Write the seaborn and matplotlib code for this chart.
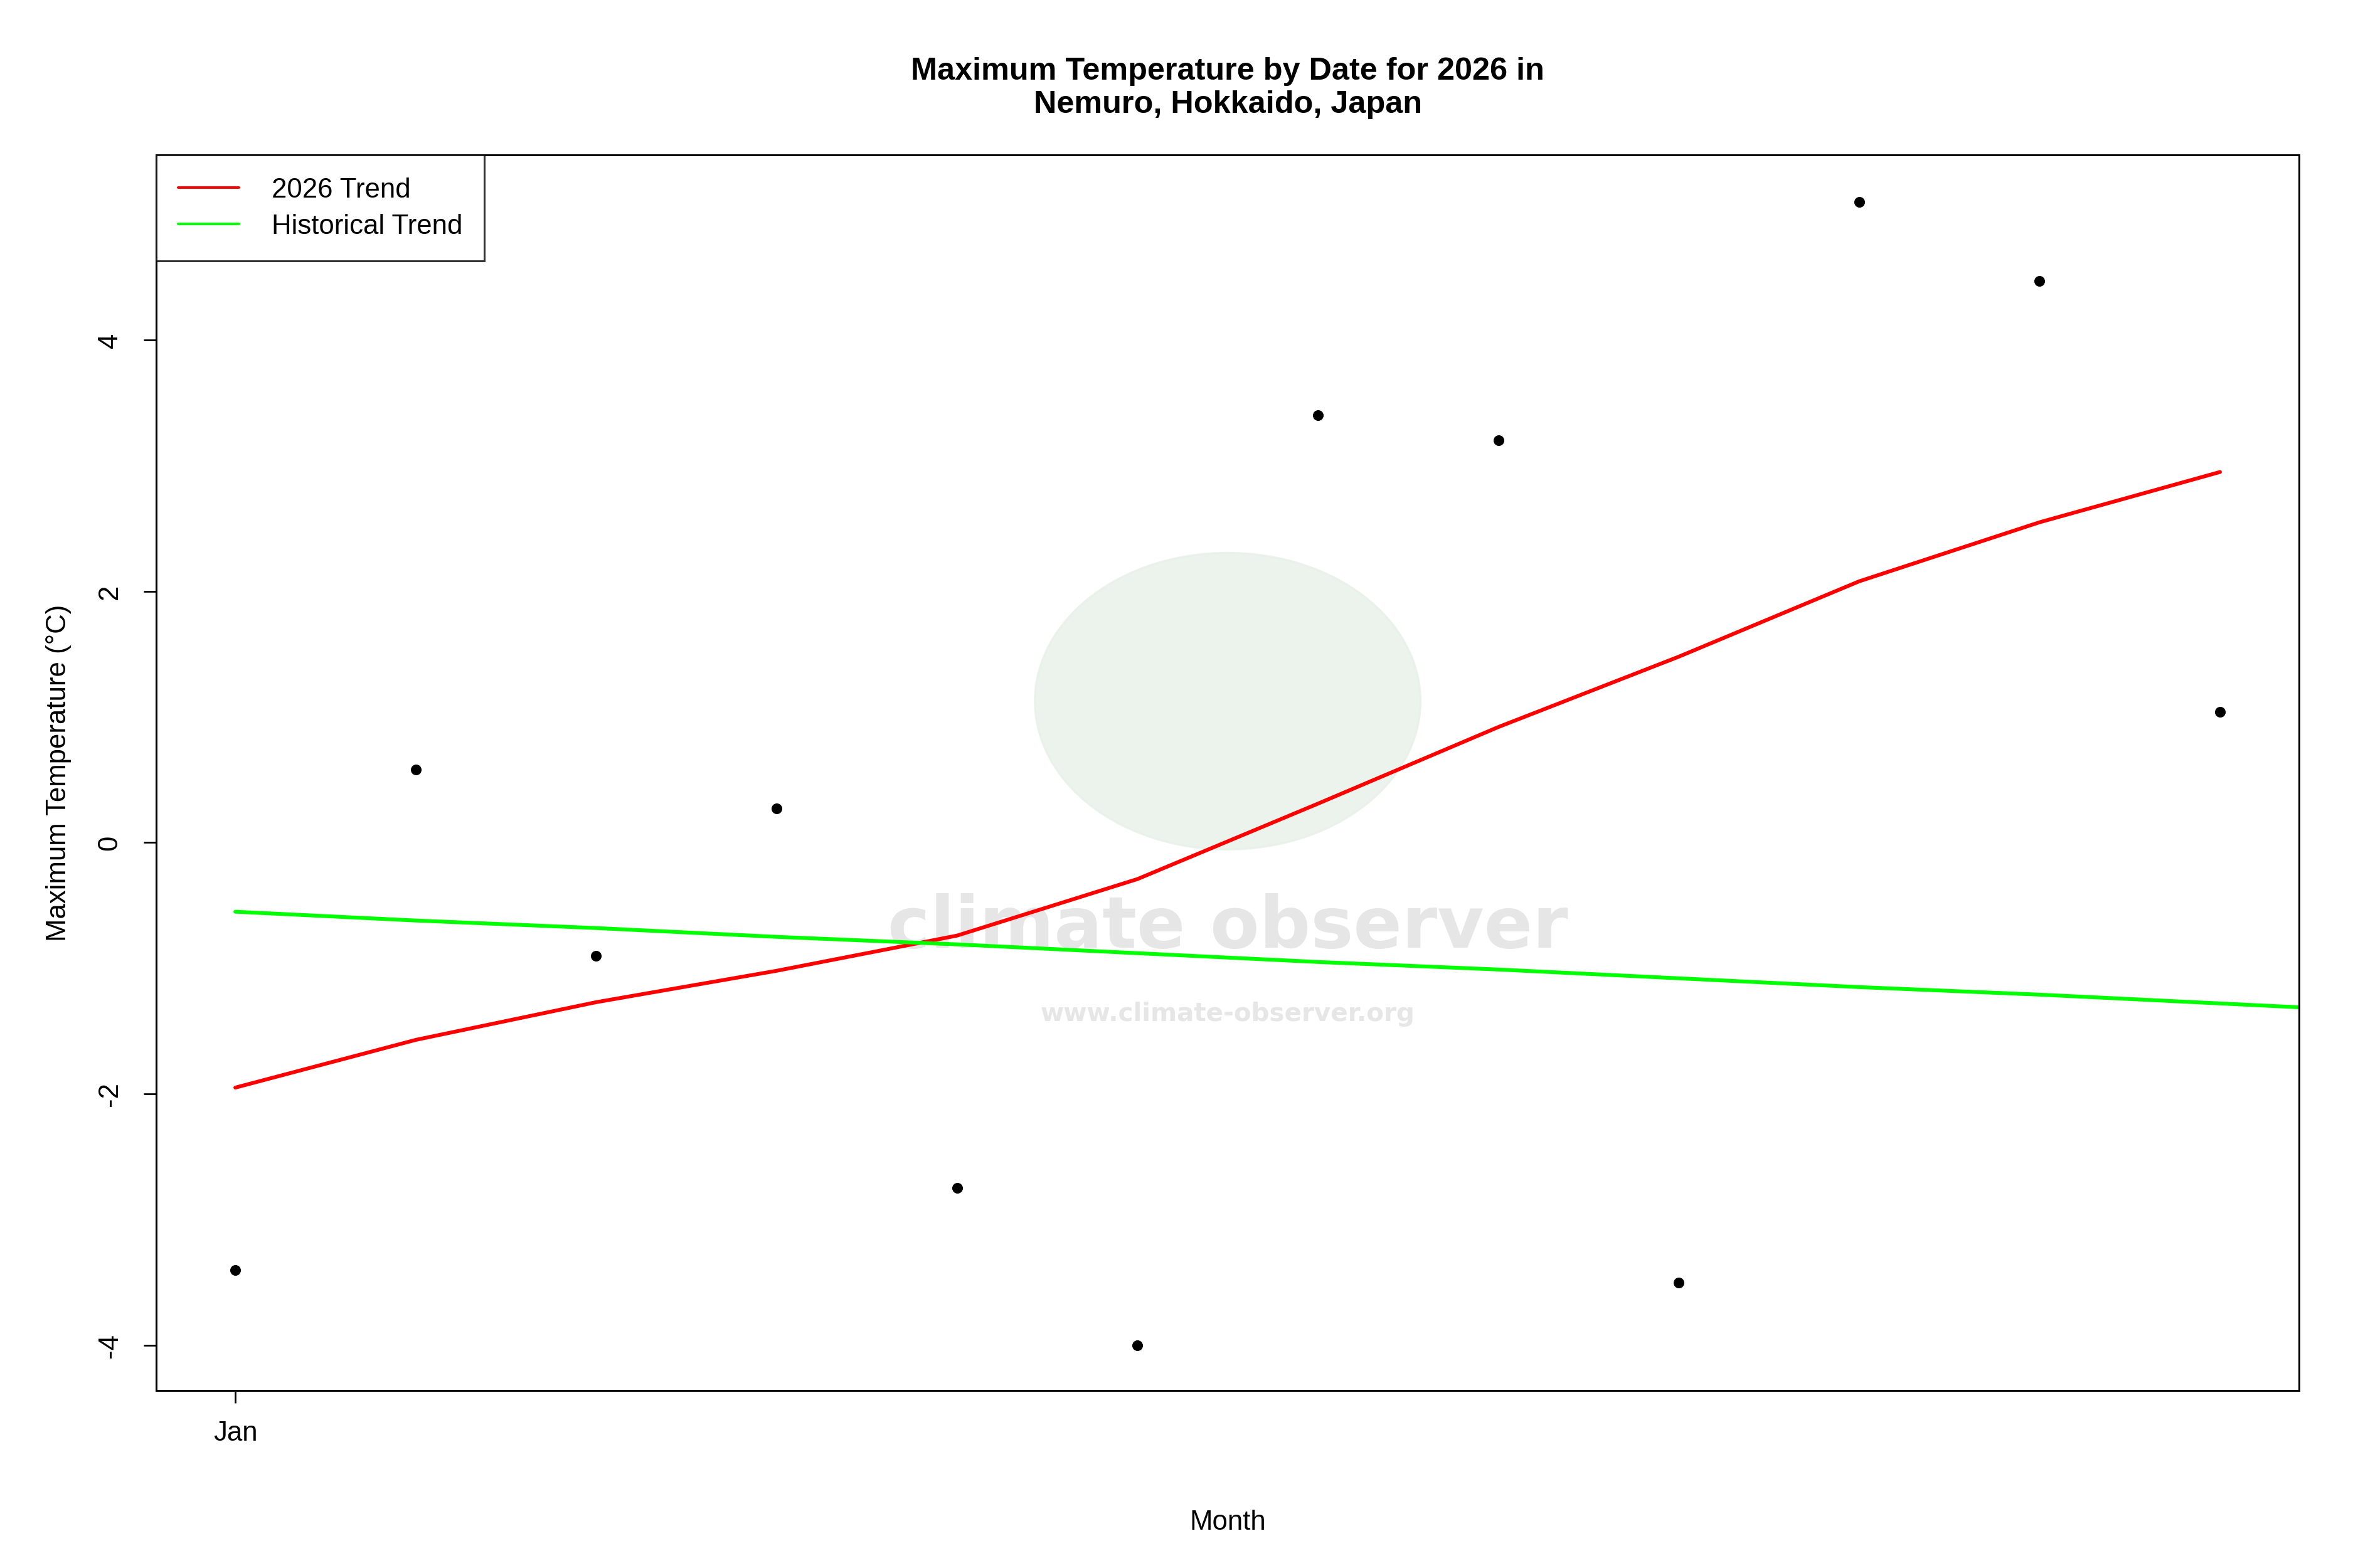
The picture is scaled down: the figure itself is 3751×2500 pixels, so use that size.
import matplotlib
matplotlib.use("Agg")
import matplotlib.pyplot as plt
import seaborn as sns
import numpy as np
import pandas as pd
from matplotlib.patches import Ellipse

days = list(range(1, 13))
tmax = [-3.4, 0.58, -0.9, 0.27, -2.75, -4.0, 3.4, 3.2, -3.5, 5.1, 4.47, 1.04]
trend_2026 = [-1.95, -1.57, -1.27, -1.02, -0.74, -0.29, 0.31, 0.92, 1.48, 2.08, 2.55, 2.95]
hist_days = list(range(1, 14))
hist_trend = [-0.55, -0.62, -0.68, -0.75, -0.81, -0.88, -0.95, -1.01, -1.08, -1.15, -1.21, -1.28, -1.35]

sns.set_theme(style="white")
plt.rcParams['font.family'] = ['Liberation Sans', 'DejaVu Sans']
plt.rcParams['text.color'] = 'black'
plt.rcParams['axes.labelcolor'] = 'black'
plt.rcParams['xtick.color'] = 'black'
plt.rcParams['ytick.color'] = 'black'

fig = plt.figure(figsize=(15.5, 10.333), dpi=242)
ax = fig.add_axes([0.0665, 0.113, 0.9105, 0.788])

# watermark
ax.add_patch(Ellipse((0.5, 0.558), 0.18, 0.24, transform=ax.transAxes, color='#e8f0e8', alpha=0.8, zorder=0))
ax.text(0.5, 0.375, "climate observer", transform=ax.transAxes, ha='center', va='center',
        fontsize=34, fontweight='bold', color='#e6e6e6', family='DejaVu Sans', zorder=0)
ax.text(0.5, 0.305, "www.climate-observer.org", transform=ax.transAxes, ha='center', va='center',
        fontsize=12, fontweight='bold', color='#e6e6e6', family='DejaVu Sans', zorder=0)

df = pd.DataFrame({"day": days, "tmax": tmax, "trend": trend_2026})
dh = pd.DataFrame({"day": hist_days, "trend": hist_trend})
sns.scatterplot(data=df, x="day", y="tmax", ax=ax, color='black', s=22, edgecolor='black', zorder=3)
sns.lineplot(data=df, x="day", y="trend", ax=ax, color='red', lw=1.8, label="2026 Trend", zorder=2)
sns.lineplot(data=dh, x="day", y="trend", ax=ax, color='#00ff00', lw=1.8, label="Historical Trend", zorder=2)

ax.set_xlim(0.563, 12.437)
ax.set_ylim(-4.363, 5.474)
ax.set_xticks([1])
ax.set_xticklabels(["Jan"], fontsize=13)
ax.set_yticks([-4, -2, 0, 2, 4])
ax.set_yticklabels(["-4", "-2", "0", "2", "4"], fontsize=13, rotation=90, va='center')
ax.tick_params(axis='both', length=6, width=0.8, color='black', direction='out', bottom=True, left=True)
ax.tick_params(axis='x', pad=8)
ax.tick_params(axis='y', pad=10)
for s in ax.spines.values():
    s.set_color('black'); s.set_linewidth(0.9)
ax.set_xlabel("Month", fontsize=13, labelpad=30)
ax.set_ylabel("Maximum Temperature (°C)", fontsize=13, labelpad=12)
ax.set_title("Maximum Temperature by Date for 2026 in\nNemuro, Hokkaido, Japan", fontsize=15,
             fontweight='bold', pad=20)
leg = ax.legend(loc='upper left', fontsize=13, frameon=True, fancybox=False, borderaxespad=0,
                handlelength=2.2, handletextpad=1.2, borderpad=0.8, labelspacing=0.4)
leg.get_frame().set_edgecolor('black'); leg.get_frame().set_linewidth(0.9)
for l in leg.get_lines():
    l.set_linewidth(1.2)
fig.savefig("out.png")
